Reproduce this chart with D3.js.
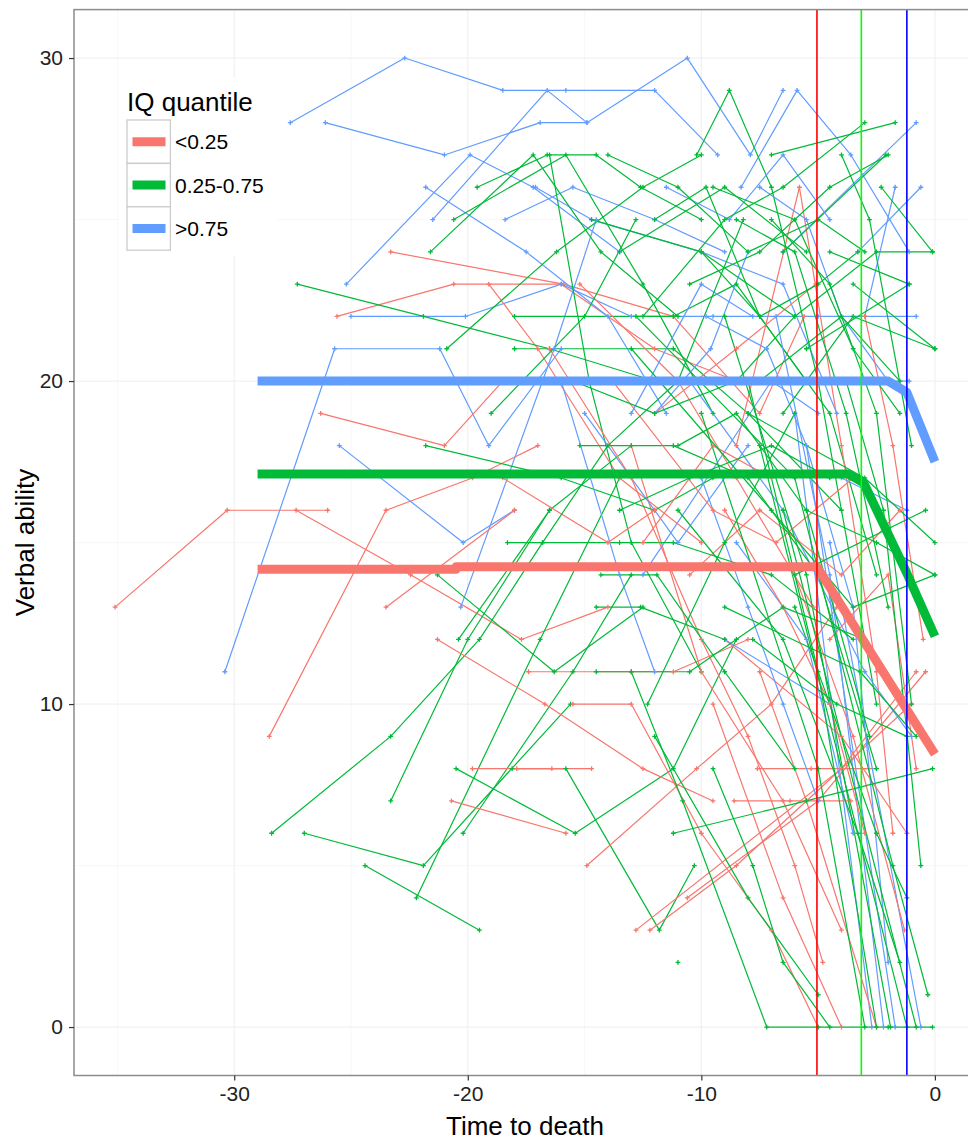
<!DOCTYPE html>
<html>
<head>
<meta charset="utf-8">
<script src="https://cdn.jsdelivr.net/npm/d3@7"></script>
<style>
  html, body { margin: 0; padding: 0; background: #fff; }
  svg { display: block; font-family: "Liberation Sans", Arial, sans-serif; }
</style>
</head>
<body>
<svg id="chart" width="968" height="1147"></svg>
<script>
// ---- data: individual trajectories [time to death, verbal score] by IQ group ----
const lowIQ = [
  [[-35.1,13],[-30.3,16],[-26.0,16]],
  [[-27.35,16],[-22.45,14],[-17.7,12],[-14.0,13]],
  [[-28.5,9],[-23.5,16],[-19.8,17],[-17.0,18]],
  [[-26.3,19],[-21.0,18],[-18.5,20]],
  [[-25.6,22],[-20.6,23],[-16.0,23],[-12.0,21],[-8.5,20]],
  [[-23.3,24],[-15.9,23],[-11.2,22],[-7.5,19],[-5.6,22]],
  [[-19.1,23],[-17.0,21],[-13.5,17],[-10.0,15]],
  [[-20.7,7],[-15.8,6]],
  [[-19.8,8],[-17.9,8],[-16.4,8],[-14.7,8]],
  [[-14.9,5],[-10.2,8],[-7.0,10],[-4.2,13]],
  [[-12.2,3],[-8.5,5],[-5.5,7],[-1.0,10]],
  [[-21.3,12],[-16.7,10],[-12.5,8],[-9.5,7]],
  [[-17.4,11],[-13.0,11],[-11.2,11],[-8.0,12]],
  [[-15.5,10],[-13.0,10],[-10.0,6],[-7.0,3],[-5.0,0]],
  [[-7.6,8],[-5.3,8],[-2.5,8]],
  [[-8.6,7],[-6.2,7],[-3.6,7]],
  [[-8.5,18],[-5.8,26],[-4.0,18],[-2.5,11],[-1.8,6]],
  [[-12.0,19],[-8.5,21],[-5.1,23]],
  [[-9.0,12],[-4.0,9],[-1.2,6]],
  [[-6.0,14],[-3.5,9],[-1.3,3]],
  [[-13.0,18],[-10.0,11],[-6.5,7],[-4.0,3]],
  [[-9.5,10],[-6.5,4],[-4.0,0]],
  [[-7.5,11],[-5.5,7],[-2.5,0]],
  [[-10.6,4],[-5.0,7],[-0.4,11]],
  [[-12.8,3],[-4.0,8],[-0.8,11]],
  [[-15.2,23],[-11.0,20],[-8.5,17],[-5.2,13]],
  [[-16.5,21],[-13.0,17],[-10.0,12],[-8.0,9],[-6.0,5],[-4.8,2]],
  [[-10.5,14],[-7.5,16],[-4.0,14],[-1.5,16]],
  [[-4.5,12],[-2.0,14],[-0.8,8]],
  [[-18.5,17],[-14.0,15],[-12.0,16]],
  [[-13.8,20],[-9.5,16],[-6.8,15],[-3.5,17]],
  [[-3.0,22],[-1.8,18],[-0.5,12]],
  [[-23.5,13],[-18.0,16]],
  [[-9.0,16],[-6.5,13],[-4.5,10],[-3.0,6]],
  [[-12.5,15],[-9.5,18],[-7.0,17]]
];

const midIQ = [
  [[-28.4,6],[-23.3,9],[-19.5,12],[-16.8,15]],
  [[-27.0,6],[-21.9,5],[-15.6,10]],
  [[-24.4,5],[-19.5,3]],
  [[-22.2,4],[-16.9,12],[-13.5,17]],
  [[-23.3,7],[-20.0,12],[-16.5,16]],
  [[-20.2,6],[-15.5,11],[-13.0,14]],
  [[-20.5,8],[-15.4,6],[-11.2,8],[-8.5,12]],
  [[-18.1,8],[-15.8,8],[-11.8,3],[-10.3,5]],
  [[-27.3,23],[-21.9,22],[-16.5,21],[-12.0,20]],
  [[-19.6,26],[-16.6,27],[-14.5,27],[-12.6,26],[-10.0,25]],
  [[-20.6,25],[-15.8,27],[-12.5,23],[-9.5,19]],
  [[-21.6,24],[-17.2,27],[-14.3,24],[-11.0,22]],
  [[-16.5,27],[-14.8,20],[-13.0,15],[-10.0,11]],
  [[-14.7,25],[-10.0,24],[-7.5,22],[-4.5,19],[-2.5,14]],
  [[-20.9,21],[-16.2,24],[-12.5,26],[-10.0,27]],
  [[-18.0,21],[-11.2,21],[-8.0,19],[-4.0,16]],
  [[-18.0,22],[-11.2,22],[-8.5,23],[-5.5,20]],
  [[-10.2,27],[-8.8,29],[-7.0,26],[-5.0,20],[-2.5,10]],
  [[-7.0,27],[-1.7,28]],
  [[-6.5,24],[-2.1,27]],
  [[-2.3,26],[-0.1,24]],
  [[-4.5,24],[-1.1,23]],
  [[-3.5,23],[0,21]],
  [[-21.3,14],[-16.3,11],[-12.5,13]],
  [[-20.4,12],[-16.5,16],[-13.0,18]],
  [[-18.3,15],[-13.5,15],[-11.2,15],[-7.0,14],[-3.5,12]],
  [[-14.3,14],[-11.9,14],[-9.0,11],[-6.0,8]],
  [[-21.8,18],[-16.0,17],[-12.0,16],[-9.5,17]],
  [[-15.2,18],[-11.2,18],[-8.0,17],[-5.0,14],[-2.5,8]],
  [[-14.5,13],[-12.6,13],[-9.0,12]],
  [[-12.3,10],[-9.0,15],[-6.0,19]],
  [[-13.0,11],[-10.8,7],[-7.2,0],[-5.0,0],[-2.0,0],[-0.1,0]],
  [[-11.2,6],[-5.5,7],[-0.1,8]],
  [[-11.0,2]],
  [[-8.0,20],[-5.0,11],[-2.5,0]],
  [[-9.0,22],[-5.5,14],[-1.9,0]],
  [[-7.5,18],[-1.2,0]],
  [[-6.5,16],[-0.8,0]],
  [[-10.0,19],[-5.0,8],[-3.0,0]],
  [[-6.0,13],[-2.5,6],[-1.2,4]],
  [[-5.5,16],[-2.5,15],[0,14]],
  [[-8.0,19],[-3.0,17],[0,15]],
  [[-6.0,14],[-0.4,16]],
  [[-13.0,21],[-7.0,16],[-3.5,13],[0,14]],
  [[-10.0,24],[-6.0,22],[-2.5,24],[-0.1,24]],
  [[-5.5,21],[-1.1,23]],
  [[-6.5,19],[-3.5,22],[0,21]],
  [[-12.0,9],[-8.0,4],[-5.0,1]],
  [[-9.0,13],[-3.2,11],[-0.8,9]],
  [[-11.0,16],[-6.5,12],[-3.3,6],[-1.5,2]],
  [[-14.5,11],[-10.5,11],[-6.5,13],[-3.0,12]],
  [[-13.5,24],[-9.0,26],[-5.5,24]],
  [[-12.0,25],[-9.8,26],[-7.5,22],[-5.0,23],[-3.3,24]],
  [[-16.8,15],[-14.0,18],[-11.0,20],[-8.2,25]],
  [[-19.0,19],[-15.0,22],[-12.8,25]],
  [[-9.5,8],[-7.8,5],[-6.5,2],[-4.5,0]],
  [[-11.5,20],[-7.5,20],[-4.0,22],[-1.5,20]],
  [[-4.0,27],[-2.8,25],[-1.0,18]],
  [[-7.8,12],[-4.2,10],[-1.2,9]],
  [[-12.8,22],[-6.0,17],[-1.8,5],[-0.3,1]],
  [[-3.8,20],[-2.2,16],[-0.6,5]],
  [[-14.0,27],[-11.0,26],[-8.0,24],[-5.0,25],[-3.0,24]],
  [[-9.5,26],[-6.0,25],[-3.5,21],[-1.5,19]],
  [[-12.5,22],[-9.0,25],[-6.5,26],[-3.0,28]],
  [[-10.5,23],[-7.5,24],[-4.5,26],[-2.0,27]],
  [[-8.5,25],[-6.0,24],[-3.8,19],[-2.0,13]],
  [[-15.5,20],[-12.0,19],[-8.5,20],[-6.0,22]],
  [[-11.0,18],[-8.5,19],[-5.5,16],[-2.8,9]],
  [[-13.5,16],[-10.5,17],[-7.0,18],[-4.5,17]],
  [[-7.0,25],[-4.5,23],[-2.5,19],[-1.0,10]]
];

const highIQ = [
  [[-27.6,28],[-22.7,30],[-18.5,29],[-15.8,29],[-12.0,29],[-9.3,27]],
  [[-26.1,28],[-21.0,27],[-16.9,28],[-14.9,28],[-10.6,30],[-7.9,27],[-6.5,29]],
  [[-30.4,11],[-25.7,21],[-21.2,21],[-19.1,18],[-16.0,21]],
  [[-25.5,18],[-20.2,15],[-18.0,16]],
  [[-25.2,23],[-19.9,27],[-17.2,26],[-13.5,24]],
  [[-25.0,22],[-20.1,22],[-16.0,23],[-13.0,22],[-9.5,22],[-5.0,22],[-0.8,22]],
  [[-21.8,26],[-17.5,24],[-14.0,22],[-11.5,19]],
  [[-21.5,25],[-16.6,29],[-14.9,28]],
  [[-18.4,25],[-15.5,26],[-12.0,25],[-9.0,24]],
  [[-17.1,26],[-14.7,25],[-10.0,24],[-6.5,23],[-4.2,19]],
  [[-20.3,13],[-16.3,21],[-14.5,25]],
  [[-8.3,26],[-5.9,29],[-3.6,27],[-1.1,24]],
  [[-6.5,24],[-0.8,28]],
  [[-3.3,24],[-0.6,26]],
  [[-3.0,22],[-1.7,26]],
  [[-6.0,19],[-2.7,0]],
  [[-5.5,18],[-1.7,0]],
  [[-4.5,15],[-0.6,0]],
  [[-6.8,22],[-4.5,14],[-2.2,0]],
  [[-9.0,12],[-4.5,10]],
  [[-15.0,19],[-11.0,15],[-8.0,18]],
  [[-12.5,14],[-7.0,20],[-5.0,19]],
  [[-4.0,17],[-1.2,16]],
  [[-7.5,26],[-5.5,25],[-4.0,22],[-2.0,20],[-1.1,20]],
  [[-10.5,20],[-6.5,16],[-3.0,11],[-1.0,9]],
  [[-8.5,15],[-5.5,12],[-3.5,6]],
  [[-12.0,19],[-9.6,21],[-8.0,24]],
  [[-16.0,20],[-13.5,14],[-12.0,11]],
  [[-10.0,17],[-8.0,13],[-6.5,10],[-5.0,7]],
  [[-11.5,26],[-8.8,25],[-6.5,27],[-4.5,25]],
  [[-9.8,22],[-7.2,21],[-5.5,18],[-3.5,13],[-2.0,2]],
  [[-13.0,19],[-10.0,23],[-7.8,22]]
];

// ---- fitted change-point trajectories per group ----
const fitLow  = [[-29,14.17],[-20.5,14.17],[-20.5,14.25],[-5.05,14.25],[0,8.45]];
const fitMid  = [[-29,17.12],[-3.7,17.12],[-3.05,16.85],[-1.2,14.05],[0,12.1]];
const fitHigh = [[-29,20.0],[-2.0,20.0],[-1.2,19.65],[0,17.5]];

// estimated change points (time to death)
const changePoints = [-5.05, -3.15, -1.2];

const groupLabels = ["<0.25", "0.25-0.75", ">0.75"];
const groupColors = ["#F8766D", "#00BA38", "#619CFF"];
const changeColors = ["#FF0000", "#00FF00", "#0000FF"];

const xTicks = [-30, -20, -10, 0];
const yTicks = [0, 10, 20, 30];

// ---- layout ----
const svg = d3.select("#chart");
const panel = { left: 74, right: 976, top: 9.6, bottom: 1075.5 };

const x = d3.scaleLinear().domain([-36.86, 1.76]).range([panel.left, panel.right]);
const y = d3.scaleLinear().domain([-1.5, 31.5]).range([panel.bottom, panel.top]);

svg.append("rect").attr("width", 968).attr("height", 1147).attr("fill", "#fff");

const clip = svg.append("defs").append("clipPath").attr("id", "panel-clip");
clip.append("rect")
  .attr("x", panel.left).attr("y", panel.top)
  .attr("width", panel.right - panel.left).attr("height", panel.bottom - panel.top);

// grid
const grid = svg.append("g");
const xMinor = [-35, -25, -15, -5];
const yMinor = [5, 15, 25];
grid.selectAll(".xminor").data(xMinor).join("line")
  .attr("x1", d => x(d)).attr("x2", d => x(d))
  .attr("y1", panel.top).attr("y2", panel.bottom)
  .attr("stroke", "#f6f6f6").attr("stroke-width", 0.8);
grid.selectAll(".yminor").data(yMinor).join("line")
  .attr("y1", d => y(d)).attr("y2", d => y(d))
  .attr("x1", panel.left).attr("x2", panel.right)
  .attr("stroke", "#f6f6f6").attr("stroke-width", 0.8);
grid.selectAll(".xmajor").data(xTicks).join("line")
  .attr("x1", d => x(d)).attr("x2", d => x(d))
  .attr("y1", panel.top).attr("y2", panel.bottom)
  .attr("stroke", "#f1f1f1").attr("stroke-width", 1.2);
grid.selectAll(".ymajor").data(yTicks).join("line")
  .attr("y1", d => y(d)).attr("y2", d => y(d))
  .attr("x1", panel.left).attr("x2", panel.right)
  .attr("stroke", "#f1f1f1").attr("stroke-width", 1.2);

// legend background sits over the grid
svg.append("rect")
  .attr("x", 119).attr("y", 78).attr("width", 158).attr("height", 178)
  .attr("fill", "#fff");

// interleave subjects so colours overlap naturally
const subjects = [];
const nMax = Math.max(lowIQ.length, midIQ.length, highIQ.length);
for (let i = 0; i < nMax; i++) {
  if (i < lowIQ.length) subjects.push({ g: 0, pts: lowIQ[i] });
  if (i < midIQ.length) subjects.push({ g: 1, pts: midIQ[i] });
  if (i < highIQ.length) subjects.push({ g: 2, pts: highIQ[i] });
}

const plot = svg.append("g").attr("clip-path", "url(#panel-clip)");
const line = d3.line().x(d => x(d[0])).y(d => y(d[1]));

plot.append("g").selectAll("path").data(subjects.filter(s => s.pts.length > 1)).join("path")
  .attr("d", s => line(s.pts))
  .attr("fill", "none")
  .attr("stroke", s => groupColors[s.g])
  .attr("stroke-width", 1.2)
  .attr("stroke-linejoin", "round");

const allPts = subjects.flatMap(s => s.pts.map(p => ({ g: s.g, p })));
plot.append("g").selectAll("path").data(allPts).join("path")
  .attr("transform", d => `translate(${x(d.p[0])},${y(d.p[1])})`)
  .attr("d", "M-2.4,0H2.4M0,-2.4V2.4")
  .attr("stroke", d => groupColors[d.g])
  .attr("stroke-width", 1.3)
  .attr("fill", "none");

// fitted group curves
const fits = [fitLow, fitMid, fitHigh];
plot.append("g").selectAll("path").data(fits).join("path")
  .attr("d", d => line(d))
  .attr("fill", "none")
  .attr("stroke", (d, i) => groupColors[i])
  .attr("stroke-width", 9)
  .attr("stroke-linejoin", "round")
  .attr("stroke-linecap", "butt");

// change-point markers
plot.append("g").selectAll("line").data(changePoints).join("line")
  .attr("x1", d => x(d)).attr("x2", d => x(d))
  .attr("y1", panel.top).attr("y2", panel.bottom)
  .attr("stroke", (d, i) => changeColors[i])
  .attr("stroke-width", 1.6);

// panel border
svg.append("rect")
  .attr("x", panel.left).attr("y", panel.top)
  .attr("width", panel.right - panel.left).attr("height", panel.bottom - panel.top)
  .attr("fill", "none").attr("stroke", "#8c8c8c").attr("stroke-width", 1.5);

// axes (plain hyphen for negative labels)
const fmt = d => String(d);
const xAxis = d3.axisBottom(x).tickValues(xTicks).tickSize(5).tickPadding(6).tickFormat(fmt);
const gx = svg.append("g").attr("transform", `translate(0,${panel.bottom})`).call(xAxis);
gx.select(".domain").remove();
gx.selectAll(".tick line").attr("stroke", "#333").attr("stroke-width", 1.2);
gx.selectAll(".tick text").attr("fill", "#222").attr("font-size", 21)
  .attr("font-family", "Liberation Sans, Arial, sans-serif");

const yAxis = d3.axisLeft(y).tickValues(yTicks).tickSize(5).tickPadding(6).tickFormat(fmt);
const gy = svg.append("g").attr("transform", `translate(${panel.left},0)`).call(yAxis);
gy.select(".domain").remove();
gy.selectAll(".tick line").attr("stroke", "#333").attr("stroke-width", 1.2);
gy.selectAll(".tick text").attr("fill", "#222").attr("font-size", 21)
  .attr("font-family", "Liberation Sans, Arial, sans-serif");

// axis titles
svg.append("text")
  .attr("x", 525).attr("y", 1135)
  .attr("text-anchor", "middle").attr("font-size", 26).attr("fill", "#000")
  .text("Time to death");
svg.append("text")
  .attr("transform", `translate(34,${(panel.top + panel.bottom) / 2}) rotate(-90)`)
  .attr("text-anchor", "middle").attr("font-size", 26).attr("fill", "#000")
  .text("Verbal ability");

// legend
const legend = svg.append("g");
legend.append("text")
  .attr("x", 127).attr("y", 111)
  .attr("font-size", 26).attr("fill", "#000")
  .text("IQ quantile");
const keyH = 43.4, keyTop = 120;
const keys = legend.selectAll("g.key").data(groupLabels).join("g")
  .attr("transform", (d, i) => `translate(127,${keyTop + i * keyH})`);
keys.append("rect")
  .attr("width", 43.4).attr("height", keyH)
  .attr("fill", "#fff").attr("stroke", "#cccccc").attr("stroke-width", 1.3);
keys.append("line")
  .attr("x1", 5.5).attr("x2", 38.5)
  .attr("y1", keyH / 2).attr("y2", keyH / 2)
  .attr("stroke", (d, i) => groupColors[i]).attr("stroke-width", 9);
keys.append("text")
  .attr("x", 48).attr("y", keyH / 2 + 7.5)
  .attr("font-size", 21).attr("fill", "#000")
  .text(d => d);
</script>
</body>
</html>
